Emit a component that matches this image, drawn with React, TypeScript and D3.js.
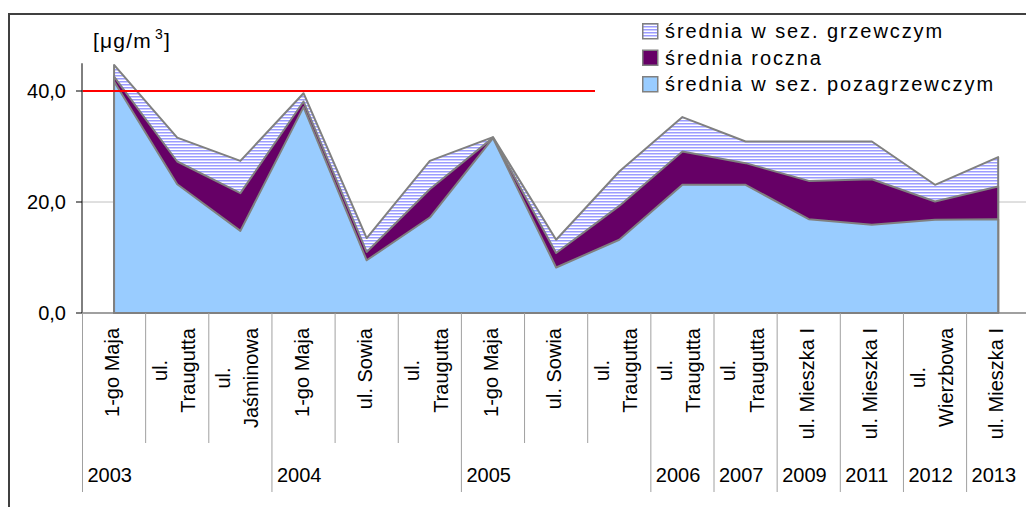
import React from 'react';
import * as d3 from 'd3';

// station labels (15 categories), "\n" = line break in the label
const categories = [
  '1-go Maja', 'ul.\nTraugutta', 'ul.\nJaśminowa',
  '1-go Maja', 'ul. Sowia', 'ul.\nTraugutta',
  '1-go Maja', 'ul. Sowia', 'ul.\nTraugutta',
  'ul.\nTraugutta', 'ul.\nTraugutta', 'ul. Mieszka I',
  'ul. Mieszka I', 'ul.\nWierzbowa', 'ul. Mieszka I',
];
const years = ['2003', '2004', '2005', '2006', '2007', '2009', '2011', '2012', '2013'];
const yearStarts = [0, 3, 6, 9, 10, 11, 12, 13, 14];

// średnia w sez. grzewczym
const heatingSeason = [44.7, 31.6, 27.4, 39.6, 13.5, 27.4, 31.7, 13.2, 25.5, 35.3, 30.9, 30.9, 30.9, 23.1, 28.1];
// średnia roczna
const annual = [42.6, 27.3, 21.6, 38.1, 11.0, 22.3, 31.6, 10.8, 19.3, 29.1, 27.0, 23.8, 24.1, 20.1, 22.8];
// średnia w sez. pozagrzewczym
const nonHeating = [41.7, 23.2, 14.8, 37.1, 9.5, 17.2, 31.5, 8.2, 13.2, 23.1, 23.1, 16.9, 15.9, 16.8, 16.9];

const yTicks = [0, 20, 40];
const gridTicks = [20];
const limitValue = 40;

const W = 1026;
const H = 507;
const FONT = '"Liberation Sans", Arial, sans-serif';
const FS = 20;

const ctx = typeof document !== 'undefined' ? document.createElement('canvas').getContext('2d') : null;
function textWidth(s: string, size: number) {
  if (!ctx) return s.length * size * 0.5;
  ctx.font = `${size}px "Liberation Sans"`;
  return ctx.measureText(s).width;
}

export default function App() {
  const left = 82.5;
  const step = 63.15;
  const x = d3.scaleBand<number>()
    .domain(d3.range(categories.length))
    .range([left, left + step * categories.length])
    .padding(0);
  const cx = (i: number) => (x(i) as number) + x.bandwidth() / 2;

  const y = d3.scaleLinear().domain([0, 45]).range([313, 63.25]);

  const area = (vals: number[]) =>
    d3.area<number>()
      .x((_, i) => cx(i))
      .y0(y(0))
      .y1((d) => y(d))(vals) as string;

  const series = [
    { name: 'średnia w sez. grzewczym', values: heatingSeason, fill: 'url(#stripes)' },
    { name: 'średnia roczna', values: annual, fill: '#660066' },
    { name: 'średnia w sez. pozagrzewczym', values: nonHeating, fill: '#99ccff' },
  ];

  const labelTop = 328;

  return (
    <svg width={W} height={H} style={{ position: 'absolute', left: 0, top: 0 }} fontFamily={FONT}>
      <defs>
        <pattern id="stripes" width="4" height="3" patternUnits="userSpaceOnUse">
          <rect width="4" height="3" fill="#ffffff" />
          <rect width="4" height="1.5" fill="#9c9cff" />
        </pattern>
      </defs>
      <rect width={W} height={H} fill="#fff" />

      {/* outer frame */}
      <line x1={9} x2={W} y1={14} y2={14} stroke="#404040" strokeWidth={2} />
      <line x1={9} x2={9} y1={13} y2={H} stroke="#404040" strokeWidth={2} />

      {/* gridlines */}
      {gridTicks.map((t) => (
        <line key={t} x1={left} x2={W} y1={y(t)} y2={y(t)} stroke="#c0c0c0" strokeWidth={1} />
      ))}

      {/* areas */}
      {series.map((s) => (
        <path key={s.name} d={area(s.values)} fill={s.fill} stroke="#808080" strokeWidth={2} strokeLinejoin="round" />
      ))}

      {/* limit line */}
      <line x1={left} x2={595} y1={y(limitValue)} y2={y(limitValue)} stroke="#ff0000" strokeWidth={2} />

      {/* y axis */}
      <line x1={82} x2={82} y1={y(45)} y2={y(0)} stroke="#000" strokeWidth={1} />
      {yTicks.map((t) => (
        <g key={t}>
          <line x1={76} x2={82} y1={y(t)} y2={y(t)} stroke="#000" strokeWidth={1} />
          <text x={66} y={y(t) + 7} textAnchor="end" fontSize={FS} fill="#000">
            {d3.format('.1f')(t).replace('.', ',')}
          </text>
        </g>
      ))}
      <text x={93} y={48} fontSize={FS + 1} fill="#000" letterSpacing={1.2}>
        [μg/m<tspan dx={3} dy={-9} fontSize={14}>3</tspan>
        <tspan dy={9}>]</tspan>
      </text>

      {/* x axis */}
      <line x1={82} x2={W} y1={y(0)} y2={y(0)} stroke="#808080" strokeWidth={1.5} />
      {d3.range(categories.length + 1).map((i) => {
        const xx = left + i * step;
        const isYear = yearStarts.includes(i);
        return (
          <line key={i} x1={xx} x2={xx} y1={y(0)} y2={isYear ? 492 : 443} stroke="#a0a0a0" strokeWidth={1} />
        );
      })}
      {categories.map((c, i) => {
        const lines = c.split('\n');
        const L = d3.max(lines, (l) => textWidth(l, FS)) as number;
        const my = labelTop + L / 2;
        const offs = lines.length === 1 ? [5] : [-10.5, 18];
        return (
          <g key={i}>
            {lines.map((l, j) => (
              <text
                key={j}
                transform={`translate(${cx(i) + offs[j]},${my}) rotate(-90)`}
                textAnchor="middle"
                fontSize={FS}
                fill="#000"
              >
                {l}
              </text>
            ))}
          </g>
        );
      })}
      {years.map((yr, k) => (
        <text key={yr} x={left + yearStarts[k] * step + 5} y={482} fontSize={FS} fill="#000">
          {yr}
        </text>
      ))}

      {/* legend */}
      {series.map((s, k) => (
        <g key={s.name} transform={`translate(642,${23 + k * 26.5})`}>
          <rect x={0.75} y={0.75} width={15} height={15} fill={s.fill} stroke="#808080" strokeWidth={1.5} />
          <text x={23} y={15} fontSize={FS} letterSpacing={1.9} fill="#000">
            {s.name}
          </text>
        </g>
      ))}
    </svg>
  );
}
